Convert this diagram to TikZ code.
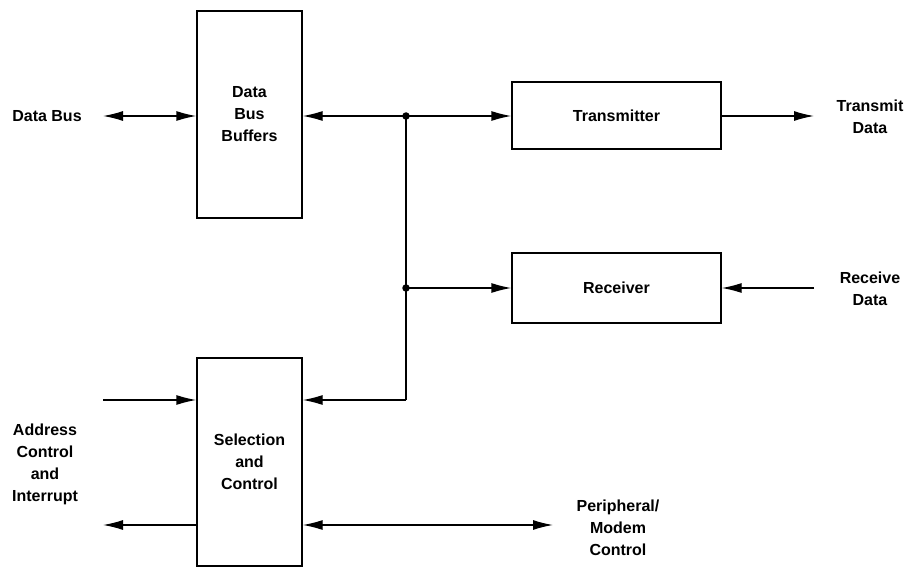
\documentclass[tikz,border=0pt]{standalone}
\usepackage{fontspec}
\setmainfont{Liberation Sans}
\usetikzlibrary{arrows.meta}
\begin{document}
\begin{tikzpicture}[x=1pt,y=-1pt,
  line width=1.3pt,
  >={Latex[length=20pt,width=10pt]},
  blk/.style={draw, rectangle, inner sep=0pt, align=center,
    font=\fontsize{16}{22}\selectfont\bfseries},
  lbl/.style={align=center, inner sep=0pt,
    font=\fontsize{16}{22}\selectfont\bfseries},
  dot/.style={circle, fill, inner sep=0pt, minimum size=7.5pt}]
\useasboundingbox (0,0) rectangle (906,567);
% blocks
\node[blk, minimum width=105pt, minimum height=207pt] (buf) at (249.5,114.5) {Data\\Bus\\Buffers};
\node[blk, minimum width=105pt, minimum height=208pt] (sel) at (249.5,462) {Selection\\and\\Control};
\node[blk, minimum width=209pt, minimum height=67pt] (tx) at (616.5,115.5) {Transmitter};
\node[blk, minimum width=209pt, minimum height=70pt] (rx) at (616.5,288) {Receiver};
% labels
\node[lbl] (ldb) at (47,116) {Data Bus};
\node[lbl] (ltd) at (870,117) {Transmit\\Data};
\node[lbl] (lrd) at (870,289) {Receive\\Data};
\node[lbl] (lai) at (45,464) {Address\\Control\\and\\Interrupt};
\node[lbl] (lpm) at (618,528) {Peripheral/\\Modem\\Control};
% coordinates
\coordinate (j1) at (406,116);
\coordinate (j2) at (406,288);
\coordinate (c3) at (406,400);
\coordinate (db) at (103,116);
\coordinate (td) at (814,116);
\coordinate (rd) at (814,288);
\coordinate (ai) at (103,400);
\coordinate (ao) at (103,525);
\coordinate (pm) at (553,525);
% connectors
\draw[<->] (db) -- (db -| buf.west);
\draw[<-] (buf.east |- j1) -- (j1);
\draw[->] (j1) -- (j1 -| tx.west);
\draw (j1) -- (c3);
\draw[->] (c3) -- (c3 -| sel.east);
\draw[->] (j2) -- (j2 -| rx.west);
\draw[->] (tx.east |- td) -- (td);
\draw[->] (rd) -- (rd -| rx.east);
\draw[->] (ai) -- (ai -| sel.west);
\draw[->] (sel.west |- ao) -- (ao);
\draw[<->] (sel.east |- pm) -- (pm);
\node[dot] (d1) at (j1) {};
\node[dot] (d2) at (j2) {};
\end{tikzpicture}
\end{document}
